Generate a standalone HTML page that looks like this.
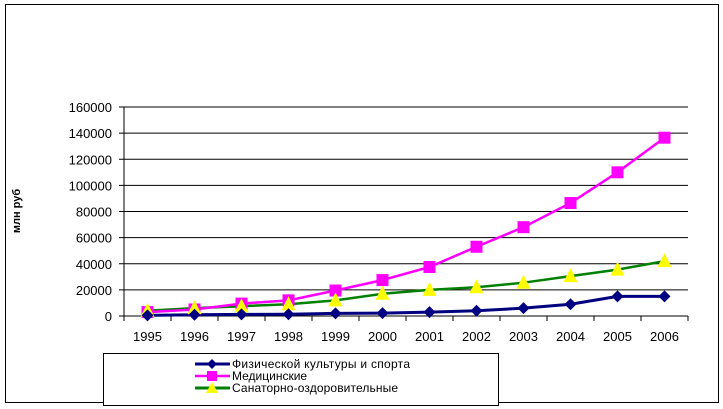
<!DOCTYPE html>
<html><head><meta charset="utf-8"><style>
body{margin:0;background:#fff}
svg{display:block;font-family:"Liberation Sans",Arial,sans-serif}
</style></head><body>
<svg id="s" width="723" height="409" xmlns="http://www.w3.org/2000/svg">
<rect x="5.5" y="4.5" width="713" height="398" fill="#fff" stroke="#000" stroke-width="1"/>
<g id="grid"></g>
<text x="0" y="0" transform="translate(20,211) rotate(-90)" text-anchor="middle" font-size="11" font-weight="bold">млн руб</text>
<rect x="103.5" y="353.5" width="395" height="52" fill="#fff" stroke="#000"/>
<line x1="195" y1="364" x2="230" y2="364" stroke="#000080" stroke-width="3"/>
<path d="M212 359 L217 364 L212 369 L207 364Z" fill="#000080"/>
<text x="232" y="368" font-size="12" textLength="178">Физической культуры и спорта</text>
<line x1="195" y1="376" x2="230" y2="376" stroke="#ff00ff" stroke-width="2.5"/>
<rect x="207" y="371" width="10" height="10" fill="#ff00ff"/>
<text x="232" y="380" font-size="12">Медицинские</text>
<line x1="195" y1="388" x2="230" y2="388" stroke="#008000" stroke-width="3"/>
<path d="M212 382 L218 393 L206 393Z" fill="#ffff00"/>
<text x="232" y="392" font-size="12" textLength="166">Санаторно-оздоровительные</text>
</svg>
<script>
const s=document.getElementById('grid'),NS='http://www.w3.org/2000/svg';
function el(t,a,txt){const e=document.createElementNS(NS,t);for(const k in a)e.setAttribute(k,a[k]);if(txt!==undefined)e.textContent=txt;s.appendChild(e);return e;}
const L=124,R=688,B=316,T=107,cw=(R-L)/12;
const Y=v=>B-v*(B-T)/160000, X=i=>L+cw*(i+0.5);
for(let k=0;k<=8;k++){const y=Y(k*20000);
 if(k>0)el('line',{x1:L,y1:y,x2:R,y2:y,stroke:'#000','stroke-width':1});
 el('line',{x1:L-5,y1:y,x2:L,y2:y,stroke:'#000'});
 el('text',{x:L-12,y:y+5,'text-anchor':'end','font-size':13},String(k*20000));}
el('line',{x1:L,y1:T,x2:L,y2:B,stroke:'#000'});
el('line',{x1:L,y1:B,x2:R,y2:B,stroke:'#000'});
for(let i=0;i<=12;i++){const x=L+cw*i;el('line',{x1:x,y1:B,x2:x,y2:B+5,stroke:'#000'});}
for(let i=0;i<12;i++)el('text',{x:X(i),y:341,'text-anchor':'middle','font-size':13},String(1995+i));
const blue=[500,1000,1200,1300,2000,2200,3000,4000,6000,9000,15000,15000];
const mag=[3000,5000,9500,12000,19500,27500,37500,53000,68000,86500,110000,136500];
const grn=[4000,6000,7500,9000,12000,17000,20000,22000,25500,30500,35500,42000];
const pts=a=>a.map((v,i)=>X(i)+','+Y(v)).join(' ');
el('polyline',{points:pts(grn),fill:'none',stroke:'#008000','stroke-width':2.5});
el('polyline',{points:pts(mag),fill:'none',stroke:'#ff00ff','stroke-width':2.5});
el('polyline',{points:pts(blue),fill:'none',stroke:'#000080','stroke-width':3});
mag.forEach((v,i)=>el('rect',{x:X(i)-6,y:Y(v)-6,width:12,height:12,fill:'#ff00ff'}));
grn.forEach((v,i)=>{const x=X(i),y=Y(v);el('path',{d:`M${x} ${y-8} L${x+7} ${y+6} L${x-7} ${y+6}Z`,fill:'#ffff00'});});
blue.forEach((v,i)=>{const x=X(i),y=Y(v);el('path',{d:`M${x} ${y-6} L${x+6} ${y} L${x} ${y+6} L${x-6} ${y}Z`,fill:'#000080'});});
</script>
</body></html>
